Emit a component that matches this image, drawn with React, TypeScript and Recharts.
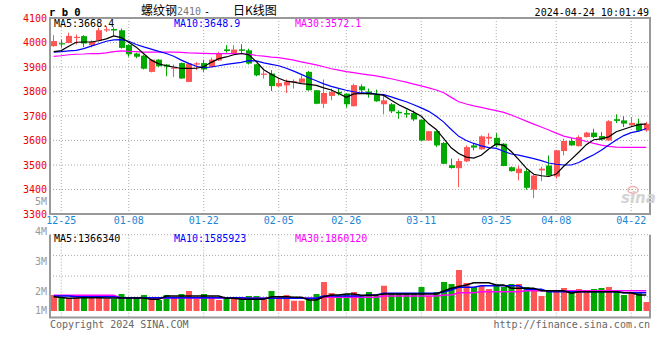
import React from 'react';
import {
  ComposedChart,
  Bar,
  Line,
  XAxis,
  YAxis,
  CartesianGrid,
  ReferenceArea,
  Cell,
} from 'recharts';

const DATES = [
  '12-22', '12-25', '12-26', '12-27', '12-28', '12-29', '01-02', '01-03', '01-04', '01-05',
  '01-08', '01-09', '01-10', '01-11', '01-12', '01-15', '01-16', '01-17', '01-18', '01-19',
  '01-22', '01-23', '01-24', '01-25', '01-26', '01-29', '01-30', '01-31', '02-01', '02-02',
  '02-05', '02-06', '02-07', '02-08', '02-19', '02-20', '02-21', '02-22', '02-23', '02-26',
  '02-27', '02-28', '02-29', '03-01', '03-04', '03-05', '03-06', '03-07', '03-08', '03-11',
  '03-12', '03-13', '03-14', '03-15', '03-18', '03-19', '03-20', '03-21', '03-22', '03-25',
  '03-26', '03-27', '03-28', '03-29', '04-01', '04-02', '04-03', '04-08', '04-09', '04-10',
  '04-11', '04-12', '04-15', '04-16', '04-17', '04-18', '04-19', '04-22', '04-23', '04-24',
];

const OPEN = [
  3985, 3997, 3998, 4020, 4026, 3989, 4008, 4051, 4055, 4050,
  3990, 3955, 3946, 3880, 3930, 3910, 3894, 3916, 3839, 3912,
  3916, 3900, 3927, 3972, 3955, 3972, 3968, 3911, 3869, 3873,
  3821, 3825, 3838, 3836, 3880, 3805, 3750, 3782, 3798, 3791,
  3740, 3821, 3800, 3788, 3748, 3748, 3717, 3712, 3712, 3685,
  3600, 3638, 3590, 3499, 3487, 3515, 3580, 3564, 3608, 3611,
  3587, 3491, 3467, 3475, 3399, 3478, 3498, 3453, 3557, 3598,
  3577, 3614, 3632, 3618, 3600, 3687, 3682, 3662, 3669, 3641,
];
const HIGH = [
  4030, 4012, 4040, 4033, 4030, 4009, 4060, 4066, 4062, 4057,
  3993, 3958, 3950, 3932, 3932, 3912, 3910, 3918, 3917, 3920,
  3930, 3938, 3962, 3989, 3989, 3993, 3975, 3913, 3886, 3887,
  3853, 3849, 3849, 3866, 3884, 3806, 3849, 3812, 3812, 3793,
  3832, 3829, 3812, 3808, 3784, 3753, 3723, 3726, 3723, 3686,
  3640, 3640, 3594, 3526, 3526, 3580, 3590, 3621, 3630, 3630,
  3589, 3494, 3498, 3485, 3459, 3493, 3539, 3562, 3607, 3611,
  3621, 3635, 3648, 3634, 3683, 3707, 3699, 3696, 3689, 3676,
];
const LOW = [
  3983, 3979, 3997, 3992, 3981, 3980, 4005, 4043, 4026, 3975,
  3942, 3936, 3890, 3878, 3900, 3862, 3859, 3852, 3838, 3887,
  3880, 3898, 3925, 3959, 3953, 3952, 3910, 3862, 3853, 3802,
  3819, 3794, 3812, 3834, 3803, 3748, 3733, 3764, 3784, 3734,
  3739, 3794, 3775, 3758, 3707, 3712, 3689, 3693, 3679, 3598,
  3598, 3573, 3504, 3485, 3410, 3512, 3560, 3562, 3584, 3573,
  3495, 3473, 3437, 3399, 3365, 3434, 3453, 3444, 3539, 3578,
  3575, 3612, 3610, 3600, 3598, 3671, 3655, 3655, 3637, 3636,
];
const CLOSE = [
  4006, 3995, 4027, 4023, 3996, 4003, 4050, 4054, 4049, 3978,
  3952, 3942, 3893, 3930, 3903, 3902, 3898, 3853, 3914, 3915,
  3890, 3930, 3957, 3965, 3971, 3966, 3914, 3866, 3873, 3822,
  3835, 3839, 3842, 3853, 3805, 3750, 3794, 3798, 3792, 3748,
  3826, 3805, 3788, 3760, 3764, 3719, 3711, 3706, 3686, 3600,
  3638, 3580, 3505, 3488, 3516, 3573, 3571, 3617, 3615, 3580,
  3496, 3475, 3485, 3407, 3457, 3485, 3457, 3560, 3598, 3580,
  3614, 3632, 3614, 3604, 3679, 3680, 3669, 3672, 3640, 3668,
];

const MA5 = [
  3963, 3967, 3985, 4001, 4002, 4002, 4007, 4015, 4027, 4020,
  4001, 3981, 3954, 3928, 3913, 3905, 3900, 3894, 3894, 3895,
  3901, 3919, 3934, 3941, 3950, 3955, 3950, 3922, 3889, 3870,
  3854, 3842, 3838, 3832, 3829, 3825, 3815, 3806, 3792, 3776,
  3790, 3791, 3791, 3789, 3784, 3764, 3746, 3731, 3716, 3699,
  3668, 3645, 3608, 3570, 3547, 3532, 3528, 3540, 3565, 3586,
  3580, 3555, 3522, 3487, 3462, 3456, 3453, 3463, 3495, 3523,
  3552, 3583, 3603, 3607, 3615, 3636, 3646, 3656, 3665, 3668,
];
const MA10 = [
  3961, 3963, 3966, 3968, 3975, 3985, 3995, 4005, 4011, 4012,
  4005, 3992, 3982, 3973, 3964, 3955, 3944, 3928, 3915, 3903,
  3897, 3900, 3905, 3911, 3915, 3919, 3926, 3925, 3917, 3911,
  3905, 3895, 3883, 3870, 3856, 3844, 3831, 3821, 3813, 3805,
  3799, 3794, 3793, 3789, 3787, 3778, 3768, 3758, 3746, 3733,
  3719, 3699, 3675, 3645, 3617, 3600, 3588, 3578, 3571, 3568,
  3556, 3545, 3540, 3533, 3526, 3518, 3508, 3503, 3500, 3500,
  3510, 3527, 3542, 3560, 3582, 3602, 3620, 3632, 3638, 3649,
];
const MA30 = [
  3943, 3946, 3950, 3952, 3953, 3955, 3955, 3958, 3963, 3966,
  3964, 3963, 3961, 3961, 3961, 3961, 3961, 3960, 3958, 3957,
  3956, 3955, 3955, 3955, 3955, 3955, 3952, 3947, 3944, 3940,
  3938, 3933, 3928, 3921, 3915, 3909, 3901, 3893, 3887, 3881,
  3877, 3872, 3868, 3864, 3858, 3852, 3845, 3838, 3830, 3823,
  3815, 3806, 3795, 3776, 3758, 3749, 3741, 3735, 3728, 3722,
  3715, 3704, 3692, 3679, 3667, 3655, 3643, 3630, 3618, 3611,
  3605, 3596, 3588, 3581, 3576, 3573, 3572, 3572, 3572, 3572,
];

const VOL = [
  1870000, 1777000, 1757000, 1767000, 1843000, 1843000, 1777000, 1743000, 1733000, 1900000,
  1757000, 1757000, 1867000, 1757000, 1700000, 1867000, 1810000, 1900000, 2000000, 1733000,
  1900000, 1810000, 1700000, 1757000, 1733000, 1723000, 1833000, 1833000, 1757000, 2000000,
  1790000, 1867000, 1677000, 1677000, 1723000, 1900000, 2300000, 1933000, 1833000, 1900000,
  1967000, 1833000, 1967000, 1833000, 2177000, 1900000, 1900000, 1900000, 1900000, 2133000,
  1833000, 1967000, 2300000, 2233000, 2700000, 2267000, 2133000, 2167000, 2067000, 2167000,
  2133000, 2233000, 2233000, 2133000, 2033000, 1833000, 2000000, 2033000, 2100000, 1967000,
  2067000, 2033000, 2067000, 2100000, 2133000, 2033000, 1867000, 1933000, 1933000, 1633000,
];
const VMA5 = [
  1810000, 1783000, 1757000, 1767000, 1777000, 1777000, 1777000, 1767000, 1767000, 1767000,
  1767000, 1767000, 1767000, 1723000, 1723000, 1833000, 1833000, 1833000, 1833000, 1833000,
  1833000, 1833000, 1833000, 1757000, 1757000, 1723000, 1723000, 1723000, 1723000, 1810000,
  1810000, 1810000, 1790000, 1790000, 1700000, 1700000, 1810000, 1867000, 1867000, 1900000,
  1900000, 1857000, 1857000, 1857000, 1900000, 1900000, 1900000, 1900000, 1900000, 1900000,
  1900000, 1900000, 2000000, 2090000, 2150000, 2200000, 2277000, 2277000, 2277000, 2200000,
  2200000, 2090000, 2090000, 2090000, 2090000, 2010000, 2010000, 2010000, 2010000, 1923000,
  1977000, 1977000, 1977000, 1977000, 1977000, 1977000, 1943000, 1943000, 1867000, 1867000,
];
const VMA10 = [
  1833000, 1833000, 1833000, 1810000, 1810000, 1810000, 1810000, 1810000, 1810000, 1777000,
  1777000, 1777000, 1777000, 1777000, 1777000, 1777000, 1777000, 1777000, 1777000, 1777000,
  1777000, 1777000, 1777000, 1777000, 1777000, 1777000, 1757000, 1757000, 1757000, 1757000,
  1757000, 1757000, 1757000, 1757000, 1757000, 1757000, 1833000, 1833000, 1833000, 1833000,
  1833000, 1833000, 1867000, 1867000, 1923000, 1923000, 1923000, 1923000, 1923000, 1923000,
  1923000, 1923000, 1967000, 2033000, 2123000, 2123000, 2123000, 2177000, 2177000, 2177000,
  2177000, 2177000, 2177000, 2057000, 2057000, 2057000, 1977000, 1977000, 1977000, 1977000,
  1977000, 1977000, 1977000, 1977000, 1977000, 1977000, 1943000, 1943000, 1943000, 1943000,
];
const VMA30 = [
  1857000, 1857000, 1857000, 1857000, 1857000, 1857000, 1857000, 1857000, 1857000, 1767000,
  1767000, 1767000, 1767000, 1767000, 1767000, 1767000, 1767000, 1767000, 1767000, 1767000,
  1767000, 1767000, 1767000, 1767000, 1767000, 1767000, 1757000, 1757000, 1757000, 1757000,
  1757000, 1757000, 1757000, 1757000, 1757000, 1757000, 1790000, 1790000, 1790000, 1790000,
  1790000, 1790000, 1790000, 1790000, 1833000, 1833000, 1833000, 1833000, 1833000, 1833000,
  1833000, 1833000, 1867000, 1867000, 1943000, 1943000, 1943000, 1977000, 1977000, 1977000,
  1977000, 1977000, 1977000, 2010000, 2010000, 2010000, 2010000, 2010000, 2010000, 2010000,
  2010000, 2010000, 2010000, 2010000, 2010000, 2010000, 2010000, 2010000, 2010000, 2010000,
];

const DATE_TICKS = ['12-25', '01-08', '01-22', '02-05', '02-26', '03-11', '03-25', '04-08', '04-22'];
const PRICE_TICKS = [3300, 3400, 3500, 3600, 3700, 3800, 3900, 4000, 4100];
const PRICE_DOMAIN = [3300, 4100];
const VOL_TICKS = [1000000, 2000000, 3000000, 4000000, 5000000];
const VOL_DOMAIN = [1117000, 3877000];
const VOL_BASE = 1333000;

const TITLE_CODE = 'r b 0';
const TITLE_NAME = '螺纹钢';
const TITLE_CONTRACT = '2410';
const TITLE_KIND = '日K线图';
const TIMESTAMP = '2024-04-24 10:01:49';
const PRICE_LEGEND = ['MA5:3668.4', 'MA10:3648.9', 'MA30:3572.1'];
const VOL_LEGEND = ['MA5:1366340', 'MA10:1585923', 'MA30:1860120'];
const FOOT_LEFT = 'Copyright 2024 SINA.COM';
const FOOT_RIGHT = 'http://finance.sina.com.cn';

const RED = '#ff5555';
const GREEN = '#00a800';
const MA_COLORS = ['#000000', '#0000ff', '#ff00ff'];
const GRID = '#aaaaaa';
const FRAME = '#999999';
const MONO = '"DejaVu Sans Mono", "Liberation Mono", monospace';
const CJK = '"Noto Sans CJK SC", sans-serif';

const rows = DATES.map((date, i) => ({
  date,
  open: OPEN[i],
  high: HIGH[i],
  low: LOW[i],
  close: CLOSE[i],
  ma5: MA5[i],
  ma10: MA10[i],
  ma30: MA30[i],
  vol: VOL[i],
  vma5: VMA5[i],
  vma10: VMA10[i],
  vma30: VMA30[i],
}));

const Candle = (props: any) => {
  const { x, y, width, height, payload } = props;
  if (!payload) return null;
  const { open, close, high, low } = payload;
  const h = Math.abs(height);
  const top0 = height < 0 ? y + height : y;
  const ppu = high - low === 0 ? 0 : h / (high - low);
  const yOf = (v: number) => top0 + (high - v) * ppu;
  const up = close >= open;
  const color = up ? RED : GREEN;
  const bTop = yOf(Math.max(open, close));
  const bBot = yOf(Math.min(open, close));
  const cx = Math.round(x + width / 2) - 0.5;
  const bx = Math.round(x);
  return (
    <g>
      <line x1={cx} x2={cx} y1={top0} y2={top0 + h} stroke={color} strokeWidth={1} />
      <rect x={bx} y={bTop} width={Math.round(width)} height={Math.max(1.2, bBot - bTop)} fill={color} />
    </g>
  );
};

const PRICE_H = 240;
const VOL_TOP = 190;
const VOL_H = 140;
const VOL_MARGIN = { top: 44.7, right: 10, bottom: 12.5, left: 0 };
const VOL_PLOT_W = 600;
const VOL_PLOT_H = VOL_H - VOL_MARGIN.top - VOL_MARGIN.bottom;
// frame without the top edge (the top edge is a dotted grid line)
const VOL_FRAME_DASH = `0 ${VOL_PLOT_W} ${VOL_PLOT_W + 2 * VOL_PLOT_H + 4} 0`;

const VolTick = (p: any) => {
  const { x, y, payload } = p;
  const yy = Math.min(y, VOL_H - VOL_MARGIN.bottom - 7.5);
  return (
    <text x={x} y={yy} dy="0.35em" textAnchor="end" fill="#999" fontSize={10} fontFamily={MONO}>
      {`${payload.value / 1000000}M`}
    </text>
  );
};

export default function App() {
  return (
    <div style={{ position: 'absolute', left: 0, top: 0, width: 660, height: 360, background: '#fff' }}>
      <div style={{ position: 'absolute', left: 0, top: 0 }}>
        <ComposedChart width={660} height={PRICE_H} data={rows} margin={{ top: 18, right: 10, bottom: 0, left: 0 }}>
          <CartesianGrid stroke={GRID} strokeDasharray="1 2" />
          <XAxis
            dataKey="date"
            ticks={DATE_TICKS}
            interval={0}
            height={26}
            tickSize={0}
            tickMargin={3}
            axisLine={false}
            tickLine={false}
            tick={{ fill: '#1a86d4', fontSize: 10, fontFamily: MONO }}
          />
          <YAxis
            domain={PRICE_DOMAIN}
            ticks={PRICE_TICKS}
            width={50}
            tickSize={0}
            tickMargin={3}
            axisLine={false}
            tickLine={false}
            allowDataOverflow
            tick={{ fill: '#ee0000', fontSize: 10, fontFamily: MONO }}
          />
          <Bar
            dataKey={(d: any) => [d.low, d.high]}
            barSize={6}
            isAnimationActive={false}
            shape={(p: any) => <Candle {...p} />}
          />
          <Line dataKey="ma30" stroke={MA_COLORS[2]} strokeWidth={1.2} dot={false} activeDot={false} isAnimationActive={false} />
          <Line dataKey="ma10" stroke={MA_COLORS[1]} strokeWidth={1.2} dot={false} activeDot={false} isAnimationActive={false} />
          <Line dataKey="ma5" stroke={MA_COLORS[0]} strokeWidth={1.2} dot={false} activeDot={false} isAnimationActive={false} />
          <ReferenceArea y1={PRICE_DOMAIN[0]} y2={PRICE_DOMAIN[1]} fill="none" stroke={FRAME} strokeWidth={2} ifOverflow="visible" />
        </ComposedChart>
      </div>
      <div style={{ position: 'absolute', left: 0, top: VOL_TOP }}>
        <ComposedChart width={660} height={VOL_H} data={rows} margin={VOL_MARGIN}>
          <CartesianGrid
            stroke={GRID}
            strokeDasharray="1 2"
            horizontalCoordinatesGenerator={({ offset }: any) => [
              offset.top,
              offset.top + offset.height / 4,
              offset.top + offset.height / 2,
              offset.top + (offset.height * 3) / 4,
            ]}
          />
          <XAxis dataKey="date" ticks={DATE_TICKS} interval={0} hide />
          <YAxis
            domain={VOL_DOMAIN}
            ticks={VOL_TICKS}
            width={50}
            tickSize={0}
            tickMargin={3}
            axisLine={false}
            tickLine={false}
            allowDataOverflow
            interval={0}
            tick={(p: any) => <VolTick {...p} />}
          />
          <Bar dataKey={(d: any) => [VOL_BASE, d.vol]} barSize={6} isAnimationActive={false}>
            {rows.map((r, i) => (
              <Cell key={i} fill={r.close >= r.open ? RED : GREEN} />
            ))}
          </Bar>
          <Line dataKey="vma30" stroke={MA_COLORS[2]} strokeWidth={1.5} dot={false} activeDot={false} isAnimationActive={false} />
          <Line dataKey="vma10" stroke={MA_COLORS[1]} strokeWidth={1.5} dot={false} activeDot={false} isAnimationActive={false} />
          <Line dataKey="vma5" stroke={MA_COLORS[0]} strokeWidth={1.5} dot={false} activeDot={false} isAnimationActive={false} />
          <ReferenceArea
            y1={VOL_DOMAIN[0]}
            y2={VOL_DOMAIN[1]}
            fill="none"
            stroke={FRAME}
            strokeWidth={2}
            strokeDasharray={VOL_FRAME_DASH}
            ifOverflow="visible"
          />
        </ComposedChart>
      </div>
      <svg
        width={660}
        height={360}
        style={{ position: 'absolute', left: 0, top: 0, pointerEvents: 'none' }}
      >
        <text x={49} y={16} fontFamily={MONO} fontWeight="bold" fontSize={10.5} fill="#000">{TITLE_CODE}</text>
        <text x={141} y={15} fontFamily={CJK} fontSize={12} fill="#000">{TITLE_NAME}</text>
        <text x={177} y={15} fontFamily={MONO} fontSize={10} fill="#777">{TITLE_CONTRACT}</text>
        <text x={204} y={15} fontFamily={MONO} fontSize={10} fill="#000">-</text>
        <text x={233} y={15} fontFamily={CJK} fontSize={12} fill="#000">{TITLE_KIND}</text>
        <text x={649} y={16} textAnchor="end" fontFamily={MONO} fontSize={10} fill="#000">{TIMESTAMP}</text>
        <text x={54} y={27} fontFamily={MONO} fontSize={10} fill={MA_COLORS[0]}>{PRICE_LEGEND[0]}</text>
        <text x={174} y={27} fontFamily={MONO} fontSize={10} fill={MA_COLORS[1]}>{PRICE_LEGEND[1]}</text>
        <text x={295} y={27} fontFamily={MONO} fontSize={10} fill={MA_COLORS[2]}>{PRICE_LEGEND[2]}</text>
        <text x={54} y={242} fontFamily={MONO} fontSize={10} fill={MA_COLORS[0]}>{VOL_LEGEND[0]}</text>
        <text x={174} y={242} fontFamily={MONO} fontSize={10} fill={MA_COLORS[1]}>{VOL_LEGEND[1]}</text>
        <text x={295} y={242} fontFamily={MONO} fontSize={10} fill={MA_COLORS[2]}>{VOL_LEGEND[2]}</text>
        <text x={50} y={328} fontFamily={MONO} fontSize={10} fill="#666">{FOOT_LEFT}</text>
        <text x={650} y={328} textAnchor="end" fontFamily={MONO} fontSize={10} fill="#666">{FOOT_RIGHT}</text>
        <ellipse cx={633} cy={190} rx={5} ry={3.5} fill="none" stroke="#f3b0b0" strokeWidth={1.5} />
        <text x={621} y={203} fontFamily='"DejaVu Sans", sans-serif' fontStyle="italic" fontWeight="bold" fontSize={15} fill="#d4d4d4">sina</text>
      </svg>
    </div>
  );
}
